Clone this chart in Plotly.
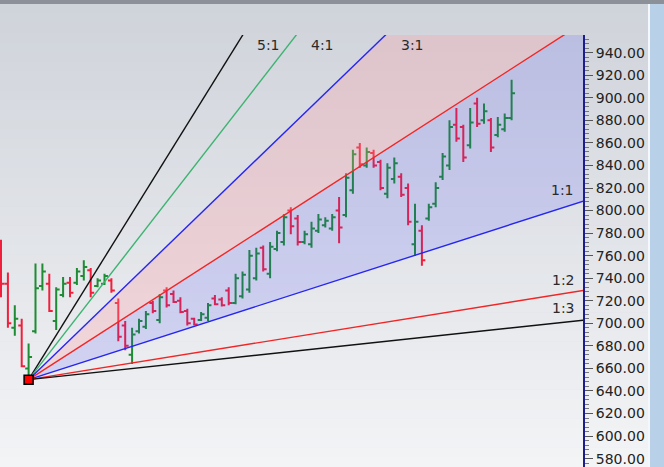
import plotly.graph_objects as go

# ---------------- data ----------------
bar_index = list(range(75))
opens = [770, 735, 696, 698, 660, 693, 733, 735, 702, 725,
         736, 736, 742, 747, 733, 735, 738, 718, 698, 672,
         693, 697, 718, 703, 729, 726, 720, 711, 704, 703,
         705, 722, 721, 729, 718, 724, 730, 740, 767, 744,
         766, 772, 800, 793, 772, 770, 782, 787, 784, 800,
         796, 818, 856, 840, 851, 843, 815, 828, 830, 820,
         770, 782, 793, 806, 830, 840, 876, 874, 858, 895,
         880, 880, 867, 872, 882]
highs = [774, 745, 716, 704, 682, 753, 753, 744, 732, 741,
         741, 749, 756, 749, 740, 744, 740, 722, 702, 696,
         704, 711, 720, 726, 732, 729, 723, 713, 705, 710,
         718, 725, 723, 732, 744, 746, 765, 767, 769, 772,
         782, 797, 803, 796, 782, 790, 797, 794, 797, 812,
         833, 854, 860, 856, 854, 845, 842, 847, 833, 824,
         806, 787, 806, 825, 851, 880, 891, 876, 891, 900,
         895, 882, 883, 886, 916]
lows = [723, 696, 689, 661, 650, 691, 729, 710, 694, 723,
        723, 734, 738, 723, 732, 734, 727, 684, 676, 664,
        691, 695, 709, 700, 714, 718, 709, 698, 698, 702,
        702, 716, 715, 716, 717, 722, 727, 738, 746, 740,
        764, 769, 779, 769, 770, 767, 780, 785, 782, 771,
        794, 815, 838, 838, 838, 818, 811, 824, 812, 787,
        760, 751, 791, 803, 827, 836, 861, 843, 855, 874,
        877, 852, 865, 870, 880]
closes = [735, 700, 704, 662, 670, 731, 746, 711, 730, 735,
          727, 746, 750, 727, 738, 742, 729, 688, 680, 690,
          702, 708, 711, 723, 716, 719, 710, 700, 699, 708,
          716, 717, 716, 718, 740, 743, 760, 762, 748, 768,
          780, 794, 786, 772, 779, 784, 792, 791, 794, 785,
          829, 850, 841, 852, 840, 820, 838, 842, 814, 790,
          790, 756, 803, 820, 848, 874, 864, 847, 878, 877,
          888, 856, 876, 882, 904]

anchor_bar = 4
anchor_price = 650
fan_unit = 1.97                      # price per bar on the 1:1 line
fan_names = ["5:1", "4:1", "3:1", "2:1", "1:1", "1:2", "1:3"]
fan_ratios = [5, 4, 3, 2, 1, 1 / 2, 1 / 3]
tick_values = [580, 600, 620, 640, 660, 680, 700, 720, 740, 760,
               780, 800, 820, 840, 860, 880, 900, 920, 940]

# ---------------- styles ----------------
W, H = 664, 467
ML, MR, MT, MB = 0, 81, 35, 0
PW, PH = W - ML - MR, H - MT - MB
fan_colors = ["#111111", "#3CB371", "#2626F0", "#F02626",
              "#2626F0", "#F02626", "#111111"]
label_pos = {"5:1": (268, 45), "4:1": (322, 45), "3:1": (412, 45),
             "1:1": (562, 190), "1:2": (563, 280), "1:3": (563, 308)}


def px_x(X):
    return (X - ML) / PW


def px_y(Y):
    return (H - MB - Y) / PH


fig = go.Figure()

far = 200


def fan_end(r):
    return anchor_bar + far, anchor_price + r * fan_unit * far


# fills
fill_pairs = [(4, 3, "rgba(60,60,255,0.15)"), (3, 2, "rgba(255,150,160,0.27)")]
for a, b, col in fill_pairs:
    xa, ya = fan_end(fan_ratios[a])
    xb, yb = fan_end(fan_ratios[b])
    fig.add_trace(go.Scatter(
        x=[anchor_bar, xa, xb, anchor_bar], y=[anchor_price, ya, yb, anchor_price],
        mode="lines", fill="toself", fillcolor=col, line=dict(width=0),
        hoverinfo="skip", showlegend=False))

# fan lines
for r, name, col in zip(fan_ratios, fan_names, fan_colors):
    xe, ye = fan_end(r)
    fig.add_trace(go.Scatter(
        x=[anchor_bar, xe], y=[anchor_price, ye], mode="lines",
        line=dict(color=col, width=1.4), hoverinfo="skip", showlegend=False,
        name=name))

# price bars
fig.add_trace(go.Ohlc(
    x=bar_index, open=opens, high=highs, low=lows, close=closes,
    increasing=dict(line=dict(color="#1F8B35", width=2)),
    decreasing=dict(line=dict(color="#F0203C", width=2)),
    tickwidth=0.5, showlegend=False, hoverinfo="skip"))

# anchor marker
fig.add_trace(go.Scatter(
    x=[anchor_bar], y=[anchor_price], mode="markers",
    marker=dict(symbol="square", size=9, color="#FF0000",
                line=dict(color="#000000", width=1.5)),
    hoverinfo="skip", showlegend=False, cliponaxis=False))

# background gradient shapes
shapes = []
n = 48
top_c = (207, 211, 218)
bot_c = (243, 244, 246)
for k in range(n):
    y0 = 4 + (H - 4) * k / n
    y1 = 4 + (H - 4) * (k + 1) / n
    t = (k + 0.5) / n
    c = tuple(int(round(top_c[j] + (bot_c[j] - top_c[j]) * t)) for j in range(3))
    shapes.append(dict(type="rect", xref="paper", yref="paper",
                       x0=px_x(0), x1=px_x(648), y0=px_y(y1), y1=px_y(y0) + 0.001,
                       fillcolor="rgb(%d,%d,%d)" % c, line=dict(width=0),
                       layer="below"))
# top dark strip
shapes.append(dict(type="rect", xref="paper", yref="paper",
                   x0=px_x(0), x1=px_x(W), y0=px_y(4), y1=px_y(0),
                   fillcolor="#8C9199", line=dict(width=0), layer="below"))
# right strip
shapes.append(dict(type="rect", xref="paper", yref="paper",
                   x0=px_x(648), x1=px_x(650), y0=px_y(H), y1=px_y(4),
                   fillcolor="#F4F7FB", line=dict(width=0), layer="below"))
shapes.append(dict(type="rect", xref="paper", yref="paper",
                   x0=px_x(650), x1=px_x(W), y0=px_y(H), y1=px_y(4),
                   fillcolor="#B9D0E9", line=dict(width=0), layer="below"))

annotations = []
for name in fan_names:
    if name in label_pos:
        X, Y = label_pos[name]
        annotations.append(dict(text=name, xref="paper", yref="paper",
                                x=px_x(X), y=px_y(Y), showarrow=False,
                                xanchor="center", yanchor="middle",
                                font=dict(family="DejaVu Sans", size=14,
                                          color="#2A2A2A")))

y_top = 940 + (52.7 - MT) / 1.1275
y_bot = 940 - (H - 52.7) / 1.1275
x_left = (0 - 1) / 6.9
x_right = (PW - 1) / 6.9

fig.update_layout(
    width=W, height=H, autosize=False,
    margin=dict(l=ML, r=MR, t=MT, b=MB, pad=0),
    paper_bgcolor="#D3D7DD", plot_bgcolor="rgba(0,0,0,0)",
    shapes=shapes, annotations=annotations, showlegend=False,
    xaxis=dict(visible=False, range=[x_left, x_right],
               rangeslider=dict(visible=False), fixedrange=True),
    yaxis=dict(side="right", range=[y_bot, y_top], tickmode="array",
               tickvals=tick_values, ticktext=["%.2f" % v for v in tick_values],
               ticks="outside", ticklen=8, tickcolor="#555555", tickwidth=1,
               showline=True, linecolor="#1C1C8C", linewidth=2,
               showgrid=False, zeroline=False,
               minor=dict(dtick=4, tick0=0, ticks="outside", ticklen=4,
                          tickcolor="#777777", showgrid=False),
               tickfont=dict(family="DejaVu Sans", size=14, color="#222222"),
               fixedrange=True),
)

fig.write_html("out.html", config={"displayModeBar": False},
               post_script="document.body.style.margin='0';"
                           "document.body.style.overflow='hidden';")
